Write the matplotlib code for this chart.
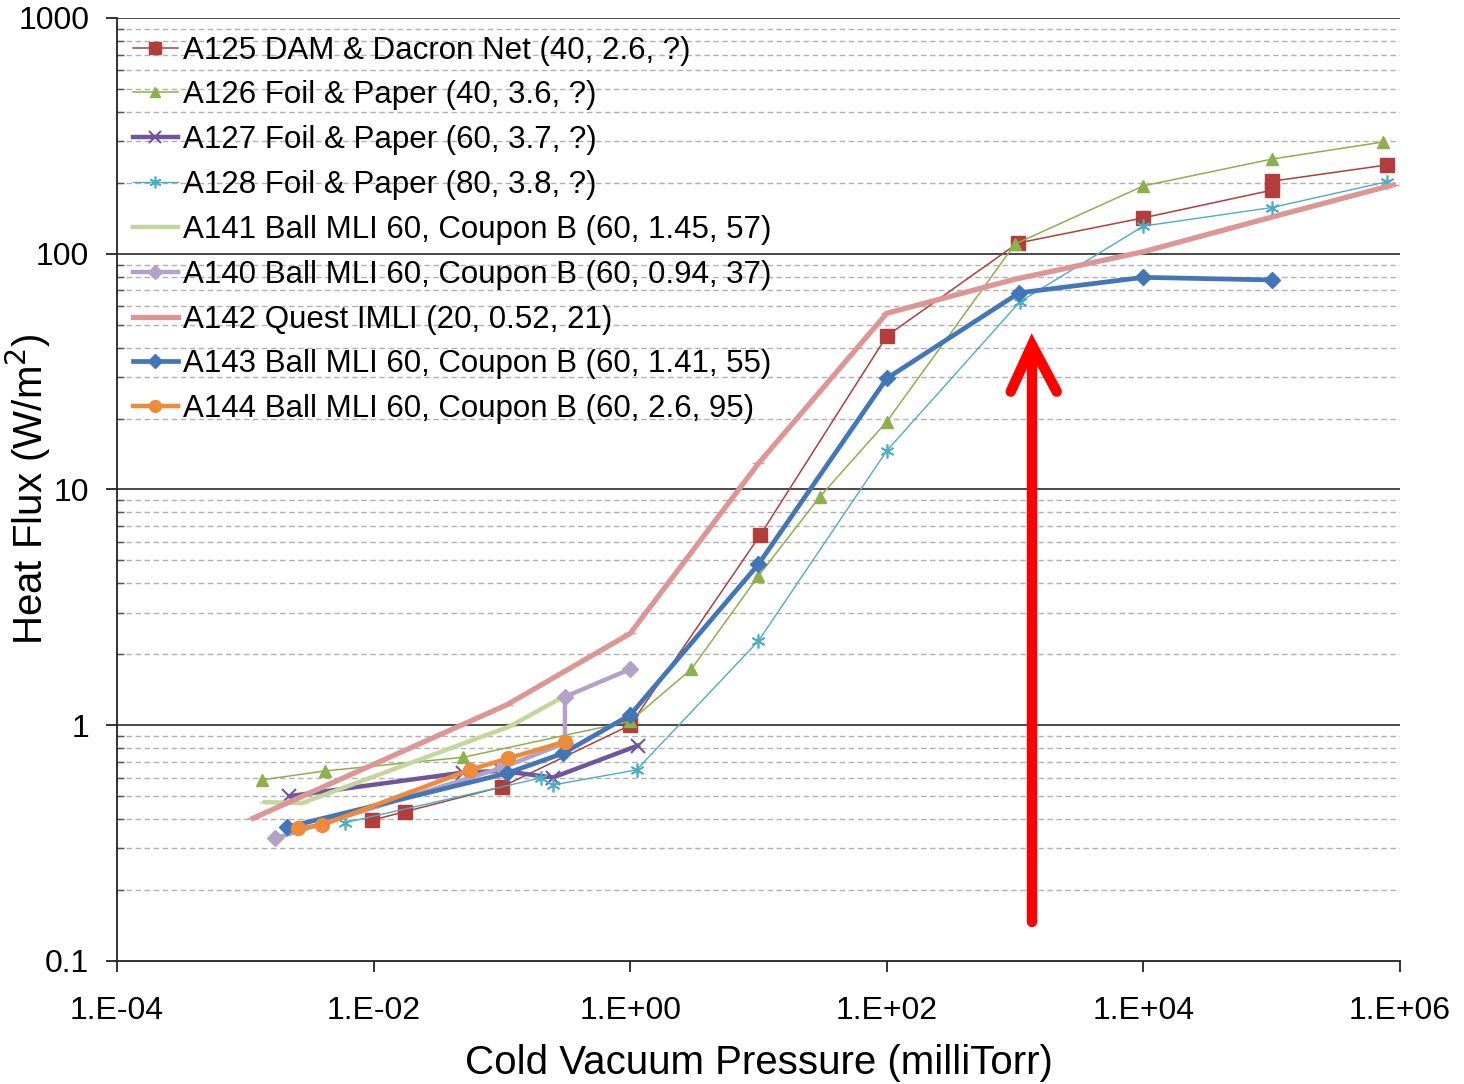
import matplotlib
matplotlib.use("Agg")
import matplotlib.pyplot as plt
from matplotlib.ticker import FixedLocator, FixedFormatter, NullFormatter
import numpy as np

plt.rcParams['font.family'] = ['Liberation Sans', 'DejaVu Sans']

# ---------------- data ----------------
labels = [
    "A125 DAM & Dacron Net (40, 2.6, ?)",
    "A126 Foil & Paper (40, 3.6, ?)",
    "A127 Foil & Paper (60, 3.7, ?)",
    "A128 Foil & Paper (80, 3.8, ?)",
    "A141 Ball MLI 60, Coupon B (60, 1.45, 57)",
    "A140 Ball MLI 60, Coupon B (60, 0.94, 37)",
    "A142 Quest IMLI (20, 0.52, 21)",
    "A143 Ball MLI 60, Coupon B (60, 1.41, 55)",
    "A144 Ball MLI 60, Coupon B (60, 2.6, 95)",
]

a125_p = [0.0098, 0.0176, 0.1, 1.0, 10.3, 100, 1050, 1.0e4, 1.0e5, 1.0e5, 7.9e5]
a125_q = [0.396, 0.43, 0.548, 1.0, 6.4, 44.8, 111, 142, 186, 203, 238]

a126_p = [0.00134, 0.00418, 0.05, 1.0, 3.0, 10, 30, 100, 1000, 1.0e4, 1.0e5, 7.4e5]
a126_q = [0.586, 0.64, 0.731, 1.04, 1.73, 4.3, 9.3, 19.4, 110, 194, 252, 298]

a127_p = [0.0022, 0.05, 0.1, 0.25, 1.15]
a127_q = [0.50, 0.63, 0.64, 0.60, 0.82]

a128_p = [0.006, 0.2, 0.25, 1.12, 10, 100, 1090, 1.0e4, 1.0e5, 7.9e5]
a128_q = [0.386, 0.597, 0.558, 0.646, 2.28, 14.6, 62.6, 131, 157, 202]

a141_p = [0.00142, 0.00275, 0.116, 0.30]
a141_q = [0.472, 0.467, 0.99, 1.32]

a140_p = [0.0017, 0.1, 0.31, 0.31, 1.0]
a140_q = [0.331, 0.66, 0.84, 1.32, 1.73]

a142_p = [0.00115, 0.109, 1.0, 10, 100, 1000, 1.0e4, 1.0e5, 8.87e5]
a142_q = [0.403, 1.22, 2.45, 12.9, 55.9, 78, 102, 143, 196]

a143_p = [0.0021, 0.109, 0.30, 1.0, 10, 100, 1078, 1.0e4, 1.0e5]
a143_q = [0.369, 0.625, 0.76, 1.105, 4.82, 29.6, 68.3, 79.4, 77.4]

a144_p = [0.00259, 0.00394, 0.056, 0.112, 0.31]
a144_q = [0.366, 0.377, 0.646, 0.724, 0.851]

# annotation arrow (data coordinates)
arrow_x = 1354
arrow_bottom = 0.1463
arrow_tip = 41.0
arrow_arm_x = [924, 1354, 2110]
arrow_arm_y = [26.0, 41.0, 26.0]

xticks = [1e-4, 1e-2, 1e0, 1e2, 1e4, 1e6]
xticklabels = ["1.E-04", "1.E-02", "1.E+00", "1.E+02", "1.E+04", "1.E+06"]
yticks = [0.1, 1, 10, 100, 1000]
yticklabels = ["0.1", "1", "10", "100", "1000"]

# ---------------- styles ----------------
series = [
    (a125_p, a125_q, dict(color='#B23D3A', lw=1.1, marker='s', ms=9.5)),
    (a126_p, a126_q, dict(color='#8DB04C', lw=1.1, marker='^', ms=9)),
    (a127_p, a127_q, dict(color='#6F559B', lw=3.2, marker='x', ms=10, mew=1.5)),
    (a128_p, a128_q, dict(color='#4BACC6', lw=1.0, marker=(6, 2, 0), ms=10, mew=1.2)),
    (a141_p, a141_q, dict(color='#C3D69B', lw=3.2, marker='_', ms=8)),
    (a140_p, a140_q, dict(color='#B3A2C7', lw=3.2, marker='D', ms=8)),
    (a142_p, a142_q, dict(color='#DB9695', lw=3.8, marker='_', ms=8)),
    (a143_p, a143_q, dict(color='#4376B6', lw=3.4, marker='D', ms=8.5)),
    (a144_p, a144_q, dict(color='#EE8A3A', lw=3.2, marker='o', ms=10)),
]

fig = plt.figure(figsize=(14.64, 10.84), dpi=100)
ax = fig.add_axes([0.0799, 0.1135, 0.8764, 0.8699])
ax.set_xscale('log')
ax.set_yscale('log')
ax.set_xlim(1e-4, 1e6)
ax.set_ylim(0.1, 1000)

# grid lines
for dec in range(-1, 4):
    base = 10.0 ** dec
    if dec > -1:
        ax.axhline(base, color='#3a3a3a', lw=1.3, zorder=1)
    if dec < 3:
        for m in range(2, 10):
            ax.axhline(base * m, color='#b0b0b0', lw=1.0, ls=(0, (4, 2.5)), zorder=1)

handles = []
for (p, q, st), lab in zip(series, labels):
    h, = ax.plot(p, q, label=lab, zorder=3, markeredgecolor=st['color'], **st)
    handles.append(h)

# red arrow
ax.plot([arrow_x, arrow_x], [arrow_bottom, arrow_tip * 0.93], color='#FF0000', lw=7.5,
        solid_capstyle='round', zorder=5)
ax.plot(arrow_arm_x, arrow_arm_y, color='#FF0000', lw=7.5, solid_capstyle='round',
        solid_joinstyle='miter', zorder=5)

# spines
for s in ['top', 'right']:
    ax.spines[s].set_visible(False)
for s in ['left', 'bottom']:
    ax.spines[s].set_color('#222222')
    ax.spines[s].set_linewidth(1.3)

ax.xaxis.set_major_locator(FixedLocator(xticks))
ax.xaxis.set_major_formatter(FixedFormatter(xticklabels))
ax.xaxis.set_minor_locator(FixedLocator([]))
ax.yaxis.set_major_locator(FixedLocator(yticks))
ax.yaxis.set_major_formatter(FixedFormatter(yticklabels))
minor_y = [10.0 ** d * m for d in range(-1, 3) for m in range(2, 10)]
ax.yaxis.set_minor_locator(FixedLocator(minor_y))
ax.yaxis.set_minor_formatter(NullFormatter())
ax.tick_params(axis='x', which='major', direction='out', length=8, width=1.3,
               labelsize=23, pad=17, color='#222222')
ax.tick_params(axis='y', which='major', direction='out', length=8, width=1.3,
               labelsize=23, pad=12, color='#222222')
ax.tick_params(axis='y', which='minor', direction='in', length=5, width=1.0, color='#555555')

ax.set_xlabel("Cold Vacuum Pressure (milliTorr)", fontsize=29)
ax.xaxis.set_label_coords(0.5, -0.088)
ax.set_ylabel("Heat Flux (W/m$^2$)", fontsize=29)
ax.yaxis.set_label_coords(-0.05, 0.5)

leg = ax.legend(handles=handles, loc='upper left', bbox_to_anchor=(0.0, 0.998),
                frameon=False, fontsize=22.5, labelspacing=0.475, handlelength=1.45,
                handletextpad=0.15, borderaxespad=0.3, borderpad=0.2, markerscale=0.85)

fig.savefig("out.png", dpi=100)
